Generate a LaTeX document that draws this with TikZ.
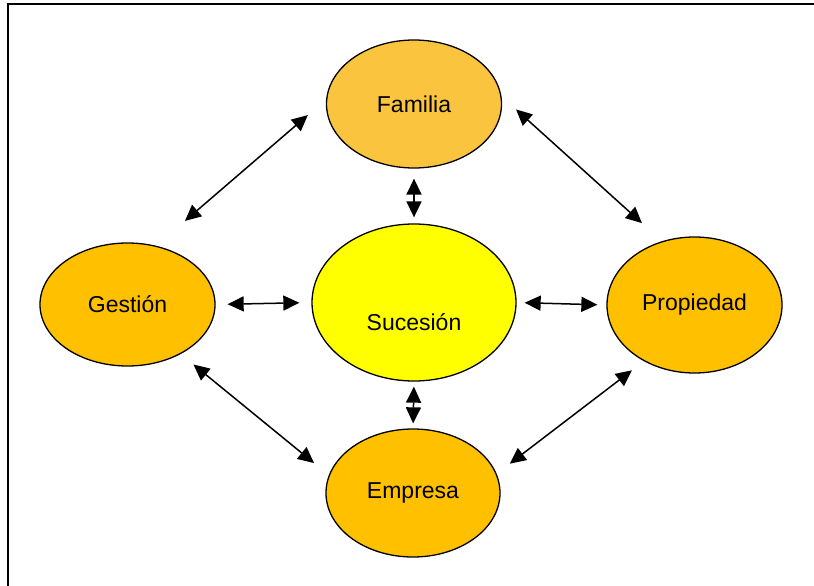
\documentclass[tikz,border=0pt]{standalone}
\usepackage{fontspec}
\setmainfont{Liberation Sans}
\usetikzlibrary{shapes.geometric, arrows.meta}

\definecolor{gold}{RGB}{255,192,0}
\definecolor{lemon}{RGB}{255,255,0}
\definecolor{famgold}{RGB}{250,196,62}

\begin{document}
\begin{tikzpicture}[x=1pt, y=-1pt,
        blob/.style={ellipse, draw, line width=1.3pt, fill=gold, inner sep=0pt,
            font=\fontsize{23}{27}\selectfont},
        link/.style={{Triangle[length=16pt,width=15pt]}-{Triangle[length=16pt,width=15pt]},
            line width=1.5pt}]
        \useasboundingbox (0,0) rectangle (814,586);

        % the frame
        \draw [line width=1.5pt] (8,4) rectangle (830,600);

        % the five ellipses
        \node[blob, minimum width=175pt, minimum height=128pt, fill=famgold] (familia) at (414,104) {Familia};
        \node[blob, minimum width=175pt, minimum height=123pt] (gestion) at (127.5,304.5) {Gestión};
        \node[blob, minimum width=204pt, minimum height=157pt, fill=lemon,
            label={[yshift=-20pt, font=\fontsize{23}{27}\selectfont]center:Sucesión}] (sucesion) at (414,302.5) {};
        \node[blob, minimum width=175pt, minimum height=136pt] (propiedad) at (694.5,305) {Propiedad};
        \node[blob, minimum width=174pt, minimum height=128pt] (empresa) at (413,493) {Empresa};

        % outer links
        \draw [link, shorten <=38pt, shorten >=24pt] (gestion.64) -- (familia.177);
        \draw [link, shorten <=19.5pt, shorten >=27pt] (familia.5) -- (propiedad.117);
        \draw [link, shorten <=16.5pt, shorten >=19pt] (gestion.-43) -- (empresa.168);
        \draw [link, shorten <=15pt, shorten >=16.5pt] (propiedad.228) -- (empresa.13);

        % links to the centre
        \draw [link, shorten <=10pt, shorten >=6pt] (familia.south) -- (sucesion.north);
        \draw [link, shorten <=12pt, shorten >=12pt] (gestion.east) -- (sucesion.west);
        \draw [link, shorten <=8pt, shorten >=9pt] (sucesion.east) -- (propiedad.west);
        \draw [link, shorten <=5pt, shorten >=5pt] (sucesion.south) -- (empresa.north);
    \end{tikzpicture}
\end{document}
